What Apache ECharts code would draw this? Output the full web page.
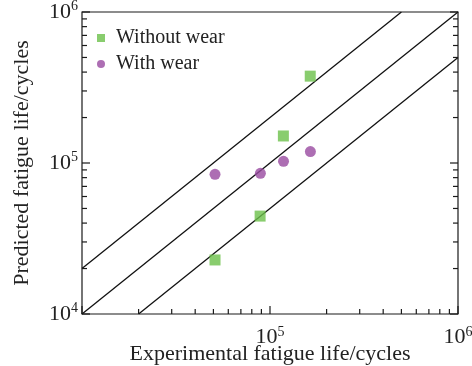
<!DOCTYPE html>
<html>
<head>
<meta charset="utf-8">
<script src="https://cdn.jsdelivr.net/npm/echarts@6/dist/echarts.min.js"></script>
<style>
  html, body { margin: 0; padding: 0; background: #fff; }
  #chart { width: 472px; height: 366px; }
</style>
</head>
<body>
<div id="chart"></div>
<script>
// Fatigue life: experimental vs predicted (log-log), with factor-of-two scatter band
const withoutWear = [
  [51000, 22800],
  [88600, 44500],
  [117800, 151000],
  [163700, 376000]
];
const withWear = [
  [51000, 84100],
  [88900, 85500],
  [118000, 102600],
  [164000, 119000]
];
// band lines: predicted = 2x, 1x and 0.5x experimental
const bandUpper = [[1e4, 2e4], [5e5, 1e6]];
const bandMiddle = [[1e4, 1e4], [1e6, 1e6]];
const bandLower = [[2e4, 1e4], [1e6, 5e5]];
// tick values: decades and the minor steps inside each decade
const majorTicks = [1e4, 1e5, 1e6];
const minorTicks = [2e4, 3e4, 4e4, 5e4, 6e4, 7e4, 8e4, 9e4, 2e5, 3e5, 4e5, 5e5, 6e5, 7e5, 8e5, 9e5];
const AXIS_MIN = 1e4;
const AXIS_MAX = 1e6;

const FONT = '"Liberation Serif", "DejaVu Serif", serif';
const TXT = '#222';
const AXIS = '#1a1a1a';

function powLabel(v) {
  return '{b|10}{s|' + Math.round(Math.log10(v)) + '}';
}
const powRich = {
  b: { fontFamily: FONT, fontSize: 22, color: TXT },
  s: { fontFamily: FONT, fontSize: 14, color: TXT, padding: [0, 0, 11, 0] }
};

const chart = echarts.init(document.getElementById('chart'), null, { renderer: 'canvas' });

// inward ticks on the bottom, left and right frame edges, positioned with the axes' log scales
function tickSeries(values, len) {
  return {
    type: 'custom',
    silent: true,
    clip: false,
    z: 10,
    zlevel: 1,
    coordinateSystem: 'cartesian2d',
    encode: { x: 0, y: 1 },
    data: values.map(v => [v, v]),
    renderItem: function (params, api) {
      const v = api.value(0);
      const st = { stroke: AXIS, lineWidth: 1.2, fill: null };
      const bx = api.coord([v, AXIS_MIN]);
      const ly = api.coord([AXIS_MIN, v]);
      const ry = api.coord([AXIS_MAX, v]);
      return {
        type: 'group',
        children: [
          { type: 'line', shape: { x1: bx[0], y1: bx[1], x2: bx[0], y2: bx[1] - len }, style: st },
          { type: 'line', shape: { x1: ly[0], y1: ly[1], x2: ly[0] + len, y2: ly[1] }, style: st },
          { type: 'line', shape: { x1: ry[0], y1: ry[1], x2: ry[0] - len, y2: ry[1] }, style: st }
        ]
      };
    }
  };
}

const lineStyle = { color: '#111', width: 1.3 };

chart.setOption({
  animation: false,
  grid: {
    left: 82, right: 14, top: 12, bottom: 52,
    containLabel: false, outerBoundsMode: 'none',
    show: true, borderColor: AXIS, borderWidth: 1.2, backgroundColor: 'transparent'
  },
  legend: {
    left: 97,
    top: 28,
    padding: 0,
    orient: 'vertical',
    itemWidth: 8,
    itemHeight: 8,
    itemGap: 6,
    textStyle: { fontFamily: FONT, fontSize: 20, color: TXT, padding: [0, 0, 0, 6] },
    data: [
      { name: 'Without wear', icon: 'rect' },
      { name: 'With wear', icon: 'circle' }
    ]
  },
  xAxis: {
    type: 'log',
    logBase: 10,
    min: AXIS_MIN,
    max: AXIS_MAX,
    name: 'Experimental fatigue life/cycles',
    nameLocation: 'middle',
    nameGap: 29,
    nameMoveOverlap: false,
    nameTextStyle: { fontFamily: FONT, fontSize: 22, color: TXT },
    axisLine: { show: false, onZero: false },
    axisTick: { show: false },
    axisLabel: { show: true, formatter: powLabel, rich: powRich, margin: 11, showMinLabel: false },
    splitLine: { show: false }
  },
  yAxis: {
    type: 'log',
    logBase: 10,
    min: AXIS_MIN,
    max: AXIS_MAX,
    name: 'Predicted fatigue life/cycles',
    nameLocation: 'middle',
    nameGap: 49,
    nameMoveOverlap: false,
    nameTextStyle: { fontFamily: FONT, fontSize: 22, color: TXT },
    axisLine: { show: false, onZero: false },
    axisTick: { show: false },
    axisLabel: { show: true, formatter: powLabel, rich: powRich, margin: 4 },
    splitLine: { show: false }
  },
  series: [
    { type: 'line', data: bandUpper, symbol: 'none', lineStyle: lineStyle, silent: true, clip: true },
    { type: 'line', data: bandMiddle, symbol: 'none', lineStyle: lineStyle, silent: true, clip: true },
    { type: 'line', data: bandLower, symbol: 'none', lineStyle: lineStyle, silent: true, clip: true },
    {
      name: 'Without wear', type: 'scatter', data: withoutWear,
      symbol: 'rect', symbolSize: 11, z: 4,
      itemStyle: { color: '#6cc04a' }
    },
    {
      name: 'With wear', type: 'scatter', data: withWear,
      symbol: 'circle', symbolSize: 11, z: 4,
      itemStyle: { color: '#984aa0' }
    },
    tickSeries(majorTicks, 8),
    tickSeries(minorTicks, 5)
  ]
});
</script>
</body>
</html>
